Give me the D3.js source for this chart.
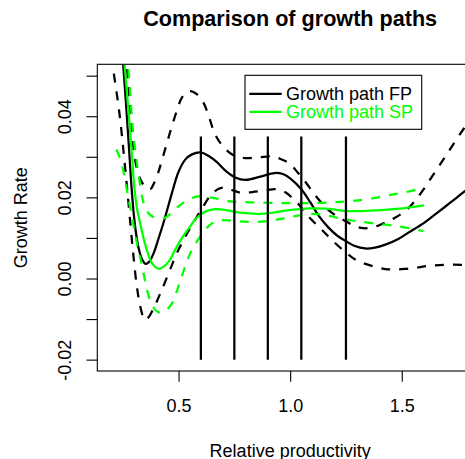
<!DOCTYPE html>
<html>
<head>
<meta charset="utf-8">
<script src="https://cdn.jsdelivr.net/npm/d3@7"></script>
<style>
body { margin: 0; background: #fff; }
svg { display: block; font-family: "Liberation Sans", Arial, Helvetica, sans-serif; }
</style>
</head>
<body>
<svg width="465" height="459"></svg>
<script>
// growth path of FP with its band
var fpPath = [[0.251, 0.0535], [0.264, 0.0435], [0.277, 0.033], [0.29, 0.022], [0.302, 0.0145],
    [0.314, 0.0095], [0.325, 0.0066], [0.337, 0.0047], [0.352, 0.0036], [0.368, 0.0041],
    [0.388, 0.0062], [0.41, 0.0098], [0.433, 0.0138], [0.47, 0.021], [0.50, 0.0263],
    [0.53, 0.0293], [0.56, 0.0306], [0.60, 0.0311], [0.635, 0.0302], [0.672, 0.0287],
    [0.71, 0.0266], [0.754, 0.0249], [0.80, 0.0243], [0.866, 0.0251], [0.93, 0.0260],
    [0.97, 0.0257], [1.0, 0.0247], [1.05, 0.0220], [1.09, 0.0188], [1.13, 0.0153],
    [1.171, 0.0126], [1.21, 0.0106], [1.25, 0.0092], [1.29, 0.0080], [1.336, 0.0074],
    [1.38, 0.0076], [1.43, 0.0084], [1.48, 0.0096], [1.53, 0.0113], [1.60, 0.0137],
    [1.657, 0.0161], [1.72, 0.0188], [1.78, 0.0214], [1.80, 0.0222]]

var fpUpper = [[0.262, 0.056], [0.275, 0.0475], [0.288, 0.0385], [0.303, 0.030], [0.318, 0.0262],
    [0.333, 0.0240], [0.352, 0.0225], [0.373, 0.0220], [0.39, 0.0235], [0.41, 0.0263],
    [0.43, 0.0300], [0.45, 0.0338], [0.47, 0.0375], [0.495, 0.0418], [0.515, 0.0446],
    [0.54, 0.0460], [0.555, 0.0462], [0.58, 0.0455], [0.612, 0.0433], [0.64, 0.0392],
    [0.664, 0.0355], [0.70, 0.0325], [0.746, 0.0304], [0.799, 0.0297], [0.86, 0.0299],
    [0.918, 0.0301], [0.96, 0.0294], [0.993, 0.0285], [1.03, 0.0264], [1.067, 0.0239],
    [1.108, 0.0208], [1.14, 0.0187], [1.171, 0.0169], [1.21, 0.0153], [1.25, 0.0141],
    [1.29, 0.0129], [1.328, 0.0124], [1.37, 0.0126], [1.418, 0.0136], [1.47, 0.0150],
    [1.522, 0.0169], [1.56, 0.0192], [1.597, 0.0219], [1.64, 0.0255], [1.686, 0.0293],
    [1.73, 0.0330], [1.78, 0.0371], [1.80, 0.0385]]

var fpLower = [[0.21, 0.0505], [0.227, 0.0441], [0.24, 0.0385], [0.254, 0.031], [0.27, 0.022],
    [0.285, 0.013], [0.298, 0.0055], [0.312, -0.0015], [0.327, -0.0065], [0.342, -0.0095],
    [0.352, -0.0102], [0.365, -0.0096], [0.388, -0.0074], [0.418, -0.0037], [0.455, 0.0012],
    [0.492, 0.0062], [0.538, 0.0111], [0.582, 0.0152], [0.605, 0.0172], [0.642, 0.0204],
    [0.68, 0.0221], [0.712, 0.0224], [0.75, 0.0216], [0.784, 0.0211], [0.83, 0.0213],
    [0.873, 0.0216], [0.92, 0.0220], [0.948, 0.0219], [0.98, 0.0212], [1.007, 0.0200],
    [1.04, 0.0182], [1.067, 0.0162], [1.105, 0.0140], [1.142, 0.0120], [1.187, 0.0095],
    [1.239, 0.0069], [1.28, 0.0051], [1.313, 0.0041], [1.373, 0.0030], [1.42, 0.0024],
    [1.463, 0.0022], [1.52, 0.0024], [1.567, 0.0027], [1.62, 0.0031], [1.671, 0.0033],
    [1.73, 0.0034], [1.80, 0.0033]]

// growth path of SP with its band
var spPath = [[0.257, 0.0535], [0.27, 0.045], [0.282, 0.037], [0.292, 0.030], [0.302, 0.0225],
    [0.314, 0.0172], [0.329, 0.0134], [0.343, 0.0100], [0.358, 0.0070], [0.381, 0.0038],
    [0.41, 0.0024], [0.43, 0.0028], [0.455, 0.0041], [0.492, 0.0078], [0.52, 0.0104],
    [0.552, 0.0128], [0.575, 0.0146], [0.597, 0.0157], [0.625, 0.0166], [0.664, 0.0171],
    [0.70, 0.0170], [0.746, 0.0165], [0.80, 0.0161], [0.866, 0.0159], [0.92, 0.0162],
    [0.963, 0.0166], [1.015, 0.0170], [1.09, 0.0173], [1.16, 0.0172], [1.239, 0.0167],
    [1.31, 0.0166], [1.388, 0.0168], [1.46, 0.0171], [1.53, 0.0175], [1.60, 0.0180]]

var spUpper = [[0.268, 0.056], [0.281, 0.0478], [0.291, 0.0395], [0.303, 0.0329], [0.316, 0.0275],
    [0.328, 0.0230], [0.338, 0.0198], [0.353, 0.0172], [0.373, 0.0157], [0.40, 0.0149],
    [0.433, 0.0148], [0.465, 0.0160], [0.50, 0.0178], [0.54, 0.0193], [0.582, 0.0202],
    [0.62, 0.0202], [0.66, 0.0198], [0.724, 0.0191], [0.80, 0.0188], [0.873, 0.0187],
    [0.95, 0.0186], [1.022, 0.0186], [1.10, 0.0186], [1.171, 0.0187], [1.224, 0.0189],
    [1.291, 0.0192], [1.373, 0.0198], [1.45, 0.0206], [1.52, 0.0213], [1.597, 0.0224]]

var spLower = [[0.222, 0.0318], [0.235, 0.0300], [0.254, 0.0262], [0.267, 0.0223], [0.28, 0.0185],
    [0.292, 0.0150], [0.306, 0.0108], [0.321, 0.0067], [0.333, 0.0040], [0.345, 0.0008],
    [0.356, -0.0022], [0.373, -0.0054], [0.395, -0.0077], [0.418, -0.0084], [0.44, -0.0080],
    [0.47, -0.0062], [0.49, -0.0035], [0.505, -0.0010], [0.53, 0.0030], [0.552, 0.0062],
    [0.575, 0.0085], [0.597, 0.0103], [0.62, 0.0120], [0.642, 0.0133], [0.67, 0.0141],
    [0.70, 0.0144], [0.75, 0.0142], [0.80, 0.0140], [0.873, 0.0140], [0.948, 0.0146],
    [1.022, 0.0154], [1.097, 0.0159], [1.15, 0.0157], [1.201, 0.0151], [1.276, 0.0143],
    [1.373, 0.0136], [1.492, 0.0128], [1.597, 0.0117]]

var cutoffs = [0.6, 0.75, 0.9, 1.05, 1.25]
var cutoffRange = [-0.02, 0.035]

var xLimits = [0.2, 1.8]
var yLimits = [-0.02, 0.05]
var xTicks = [0.5, 1.0, 1.5]
var yTicks = [-0.02, -0.01, 0, 0.01, 0.02, 0.03, 0.04, 0.05]
var yLabelled = [-0.02, 0, 0.02, 0.04]

var legendNames = ["Growth path FP", "Growth path SP"]
var legendColors = ["#000000", "#00ff00"]

var font = '"Liberation Sans", Arial, Helvetica, sans-serif'

function setup_svg() {
    var svg = d3.select("svg"),
        margin = { top: 64.3, left: 97.3, bottom: 371, right: 483 }
    return { svg, margin }
}

// R style 4% padding on the limits
function pad(lim) {
    var d = (lim[1] - lim[0]) * 0.04
    return [lim[0] - d, lim[1] + d]
}

function draw_curve(g, data, line, color, dashed) {
    g.append("path")
        .datum(data)
        .attr("fill", "none")
        .attr("stroke", color)
        .attr("stroke-width", 2.25)
        .attr("stroke-linejoin", "round")
        .attr("stroke-dasharray", dashed ? "9,9" : null)
        .attr("d", line)
}

function draw_chart() {
    var { svg, margin } = setup_svg()

    var x_scale = d3.scaleLinear().domain(pad(xLimits)).range([margin.left, margin.right])
    var y_scale = d3.scaleLinear().domain(pad(yLimits)).range([margin.bottom, margin.top])

    svg.append("defs").append("clipPath")
        .attr("id", "plotclip")
        .append("rect")
        .attr("x", margin.left)
        .attr("y", margin.top)
        .attr("width", margin.right - margin.left)
        .attr("height", margin.bottom - margin.top)

    var line = d3.line()
        .x(function (d) { return x_scale(d[0]) })
        .y(function (d) { return y_scale(d[1]) })
        .curve(d3.curveCatmullRom.alpha(0.5))

    var g = svg.append("g").attr("clip-path", "url(#plotclip)")

    draw_curve(g, fpPath, line, legendColors[0], false)
    draw_curve(g, fpUpper, line, legendColors[0], true)
    draw_curve(g, fpLower, line, legendColors[0], true)
    draw_curve(g, spPath, line, legendColors[1], false)
    draw_curve(g, spUpper, line, legendColors[1], true)
    draw_curve(g, spLower, line, legendColors[1], true)

    g.selectAll(".cutoff")
        .data(cutoffs)
        .enter().append("line")
        .attr("class", "cutoff")
        .attr("x1", function (d) { return x_scale(d) })
        .attr("x2", function (d) { return x_scale(d) })
        .attr("y1", y_scale(cutoffRange[0]))
        .attr("y2", y_scale(cutoffRange[1]))
        .attr("stroke", "#000")
        .attr("stroke-width", 2.25)

    // box
    svg.append("rect")
        .attr("x", margin.left)
        .attr("y", margin.top)
        .attr("width", margin.right - margin.left)
        .attr("height", margin.bottom - margin.top)
        .attr("fill", "none")
        .attr("stroke", "#000")
        .attr("stroke-width", 1.1)

    display_axis(svg, margin, x_scale, y_scale)
    display_legend(svg)

    svg.append("text")
        .attr("x", (margin.left + margin.right) / 2)
        .attr("y", 26)
        .attr("text-anchor", "middle")
        .attr("font-size", 21.6)
        .attr("font-weight", "bold")
        .text("Comparison of growth paths")
}

function display_axis(svg, margin, x_scale, y_scale) {
    var xa = svg.append("g")
        .attr("transform", "translate(0," + margin.bottom + ")")
        .call(d3.axisBottom(x_scale)
            .tickValues(xTicks)
            .tickSize(10.8)
            .tickFormat(function (d) { return d.toFixed(1) }))
    xa.attr("font-family", font).attr("font-size", 18)
    xa.select(".domain").remove()
    xa.selectAll(".tick line").attr("stroke-width", 1.1)
    xa.selectAll(".tick text").attr("y", 40.5).attr("dy", 0).attr("fill", "#000")

    var ya = svg.append("g")
        .attr("transform", "translate(" + margin.left + ",0)")
        .call(d3.axisLeft(y_scale)
            .tickValues(yTicks)
            .tickSize(10.8)
            .tickFormat(function (d) { return yLabelled.indexOf(d) >= 0 ? d.toFixed(2) : "" }))
    ya.attr("font-family", font).attr("font-size", 18)
    ya.select(".domain").remove()
    ya.selectAll(".tick line").attr("stroke-width", 1.1)
    ya.selectAll(".tick text")
        .attr("x", 0)
        .attr("dy", 0)
        .attr("text-anchor", "middle")
        .attr("fill", "#000")
        .attr("transform", "translate(-26.6,0) rotate(-90)")

    svg.append("text")
        .attr("x", (margin.left + margin.right) / 2)
        .attr("y", 456.5)
        .attr("text-anchor", "middle")
        .attr("font-size", 18)
        .text("Relative productivity")

    svg.append("text")
        .attr("transform", "translate(27," + ((margin.top + margin.bottom) / 2) + ") rotate(-90)")
        .attr("text-anchor", "middle")
        .attr("font-size", 18)
        .text("Growth Rate")
}

function display_legend(svg) {
    var lg = svg.append("g").attr("class", "legend")
    lg.append("rect")
        .attr("x", 245)
        .attr("y", 75.3)
        .attr("width", 176.7)
        .attr("height", 54)
        .attr("fill", "#fff")
        .attr("stroke", "#000")
        .attr("stroke-width", 1.1)

    var rows = lg.selectAll(".row")
        .data(legendNames)
        .enter().append("g")
        .attr("class", "row")
        .attr("transform", function (d, i) { return "translate(0," + (93.8 + i * 18) + ")" })
    rows.append("line")
        .attr("x1", 249.3)
        .attr("x2", 281.7)
        .attr("stroke", function (d, i) { return legendColors[i] })
        .attr("stroke-width", 2.25)
    rows.append("text")
        .attr("x", 286)
        .attr("y", 6.5)
        .attr("font-size", 18)
        .attr("fill", function (d, i) { return legendColors[i] })
        .text(function (d) { return d })
}

draw_chart()
</script>
</body>
</html>
